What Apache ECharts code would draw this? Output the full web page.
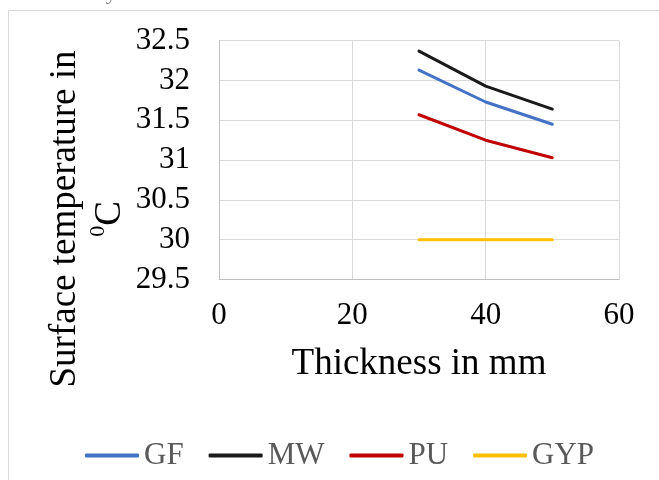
<!DOCTYPE html>
<html>
<head>
<meta charset="utf-8">
<script src="https://cdn.jsdelivr.net/npm/echarts@6/dist/echarts.min.js"></script>
<style>
  html, body { margin: 0; padding: 0; background: #ffffff; }
  #chart { width: 659px; height: 480px; }
</style>
</head>
<body>
<div id="chart"></div>
<script>
// Insulation thickness (mm)
const thickness = [30, 40, 50];
// Surface temperature (°C) per insulation material
const seriesNames = ['GF', 'MW', 'PU', 'GYP'];
const gf  = [32.13, 31.73, 31.45];
const mw  = [32.37, 31.93, 31.64];
const pu  = [31.57, 31.25, 31.03];
const gyp = [30, 30, 30];
const seriesColors = ['#4472C4', '#1a1a1a', '#C00000', '#FFC000'];

const serif = '"Liberation Serif", "Times New Roman", serif';
const values = [gf, mw, pu, gyp];

const chart = echarts.init(document.getElementById('chart'), null, { renderer: 'canvas' });

chart.setOption({
  backgroundColor: '#ffffff',
  animation: false,
  grid: { left: 219, right: 40, top: 40.7, bottom: 200.5, containLabel: false },
  xAxis: {
    type: 'value',
    min: 0, max: 60, interval: 20,
    axisLine: { show: true, lineStyle: { color: '#bfbfbf', width: 1 } },
    axisTick: { show: false },
    splitLine: { show: true, lineStyle: { color: '#d9d9d9', width: 1 } },
    axisLabel: { fontFamily: serif, fontSize: 31, color: '#000000', margin: 21 }
  },
  yAxis: {
    type: 'value',
    min: 29.5, max: 32.5, interval: 0.5,
    axisLine: { show: true, lineStyle: { color: '#bfbfbf', width: 1 } },
    axisTick: { show: false },
    splitLine: { show: true, lineStyle: { color: '#d9d9d9', width: 1 } },
    axisLabel: { fontFamily: serif, fontSize: 31, color: '#000000', margin: 29 }
  },
  legend: {
    show: true,
    data: seriesNames,
    left: 85, top: 440,
    padding: 0,
    icon: 'roundRect',
    itemWidth: 54, itemHeight: 4, itemGap: 25,
    textStyle: { fontFamily: serif, fontSize: 31, color: '#595959' }
  },
  series: seriesNames.map((name, i) => ({
    name: name,
    type: 'line',
    data: thickness.map((t, j) => [t, values[i][j]]),
    symbol: 'none',
    color: seriesColors[i],
    lineStyle: { color: seriesColors[i], width: 3, cap: 'round', join: 'round' }
  })),
  graphic: [
    {
      type: 'rect',
      shape: { x: 8.5, y: 10.5, width: 700, height: 520 },
      style: { fill: 'none', stroke: '#d9d9d9', lineWidth: 1 },
      z: -10
    },
    {
      type: 'text',
      x: 140, y: 4,
      style: {
        text: 'Temperature analysis',
        font: '22px ' + serif,
        fill: '#7f7f7f',
        align: 'right',
        verticalAlign: 'bottom'
      }
    },
    {
      type: 'text',
      x: 419, y: 364,
      style: {
        text: 'Thickness in mm',
        font: '37px ' + serif,
        fill: '#000000',
        align: 'center',
        verticalAlign: 'middle'
      }
    },
    {
      type: 'text',
      x: 87.5, y: 219,
      rotation: Math.PI / 2,
      style: {
        text: 'Surface temperature in\n{sup|0}C',
        font: '37px ' + serif,
        fill: '#000000',
        lineHeight: 45,
        align: 'center',
        verticalAlign: 'middle',
        rich: {
          sup: { fontSize: 22, fontFamily: serif, fill: '#000000', verticalAlign: 'top', lineHeight: 45 }
        }
      }
    }
  ]
});
</script>
</body>
</html>
